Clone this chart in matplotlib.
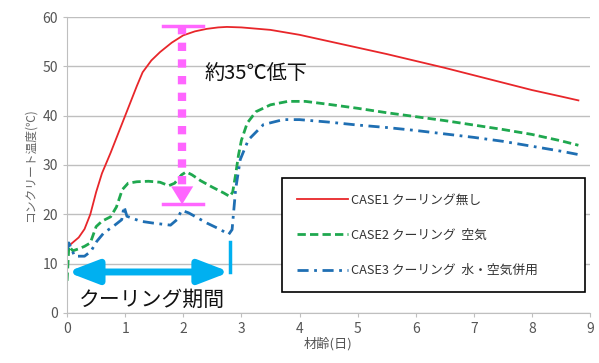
import matplotlib.pyplot as plt

plt.rcParams['font.family'] = ['Noto Sans CJK JP', 'DejaVu Sans']

# CASE1 クーリング無し
case1_x = [0, 0.1, 0.2, 0.3, 0.4, 0.5, 0.6, 0.75, 0.9, 1.0, 1.1, 1.2, 1.3, 1.45, 1.6,
           1.8, 2.0, 2.2, 2.4, 2.6, 2.75, 3.0, 3.5, 4.0, 4.5, 5.0, 5.5, 6.0, 6.5, 7.0,
           7.5, 8.0, 8.5, 8.8]
case1_y = [13.3, 14.3, 15.3, 17.0, 20.0, 24.5, 28.3, 32.5, 37.0, 40.0, 43.0, 46.0, 48.8,
           51.2, 52.9, 54.8, 56.3, 57.1, 57.6, 57.9, 58.0, 57.9, 57.4, 56.4, 55.1, 53.8,
           52.5, 51.1, 49.7, 48.2, 46.7, 45.2, 43.9, 43.1]

# CASE2 クーリング 空気
case2_x = [0, 0.03, 0.1, 0.2, 0.3, 0.4, 0.5, 0.6, 0.75, 0.85, 0.95, 1.05, 1.2, 1.4, 1.6,
           1.75, 1.85, 1.97, 2.05, 2.15, 2.3, 2.5, 2.7, 2.8, 2.85, 2.9, 2.95, 3.0, 3.1,
           3.25, 3.5, 3.8, 4.1, 4.5, 5.0, 5.5, 6.0, 6.5, 7.0, 7.5, 8.0, 8.5, 8.8]
case2_y = [6.5, 13.5, 12.6, 13.0, 13.5, 14.2, 17.5, 18.6, 19.5, 21.5, 25.0, 26.3, 26.6,
           26.7, 26.5, 25.8, 26.3, 28.0, 28.6, 28.0, 26.8, 25.5, 24.3, 23.6, 24.5, 28.0,
           32.0, 35.0, 38.5, 40.8, 42.2, 42.9, 42.9, 42.3, 41.5, 40.6, 39.8, 39.0, 38.1,
           37.2, 36.2, 34.9, 34.0]

# CASE3 クーリング 水・空気併用
case3_x = [0, 0.03, 0.13, 0.3, 0.41, 0.51, 0.63, 0.8, 0.94, 0.98, 1.03, 1.26, 1.49, 1.78,
           1.89, 1.97, 2.09, 2.41, 2.64, 2.78, 2.84, 2.9, 2.98, 3.12, 3.38, 3.72, 4.0,
           4.5, 5.0, 5.5, 6.0, 6.5, 7.0, 7.5, 8.0, 8.5, 8.85]
case3_y = [12.8, 14.2, 11.5, 11.5, 12.5, 14.5, 16.2, 17.6, 18.9, 21.6, 19.6, 18.6, 18.2,
           17.8, 18.9, 20.8, 20.3, 18.2, 16.9, 15.9, 16.9, 25.0, 31.1, 35.1, 38.2, 39.2,
           39.2, 38.7, 38.1, 37.6, 37.0, 36.3, 35.6, 34.8, 33.8, 32.8, 32.0]

labels = ['CASE1 クーリング無し', 'CASE2 クーリング  空気', 'CASE3 クーリング  水・空気併用']
colors = ['#E8262A', '#1FA84F', '#1F6FB3']

# 注記
drop_x, drop_top, drop_bottom = 1.98, 58.2, 22.0
cool_end, cool_y, cool_tick = 2.8, 8.3, 14.3
pink = '#FF66FF'
cyan = '#00B0F0'

fig = plt.figure(figsize=(5.99, 3.63), dpi=100)
ax = fig.add_axes([0.112, 0.138, 0.873, 0.815])

ax.plot(case1_x, case1_y, color=colors[0], lw=1.3, label=labels[0])
ax.plot(case2_x, case2_y, color=colors[1], lw=2, ls=(0, (3, 1.5)), label=labels[1])
ax.plot(case3_x, case3_y, color=colors[2], lw=2, ls=(0, (4, 2, 1, 2)), label=labels[2])

ax.set_xlim(0, 9)
ax.set_ylim(0, 60)
ax.set_xticks(range(0, 10))
ax.set_yticks(range(0, 61, 10))
ax.grid(axis='y', color='#BFBFBF', lw=1)
ax.set_axisbelow(True)
for s in ['top', 'right']:
    ax.spines[s].set_visible(False)
for s in ['left', 'bottom']:
    ax.spines[s].set_color('#BFBFBF')
ax.tick_params(colors='#BFBFBF', labelcolor='#555555', labelsize=10, length=3)
ax.set_ylabel('コンクリート温度(℃)', fontsize=8.5, color='#666666', labelpad=4)
ax.set_xlabel('材齢(日)', fontsize=9.5, color='#555555', labelpad=1)

# 低下量の矢印
ax.plot([drop_x, drop_x], [drop_top, 25.0], color=pink, lw=6, ls=(0, (1, 1)),
        solid_capstyle='butt', dash_capstyle='butt')
ax.annotate('', xy=(drop_x, drop_bottom), xytext=(drop_x, 25.6),
            arrowprops=dict(arrowstyle='-|>,head_width=0.4,head_length=0.65',
                            color=pink, lw=0, mutation_scale=20, shrinkA=0, shrinkB=0))
ax.plot([drop_x - 0.33, drop_x + 0.36], [drop_top, drop_top], color=pink, lw=2.5)
ax.plot([drop_x - 0.33, drop_x + 0.36], [drop_bottom, drop_bottom], color=pink, lw=2.5)
ax.text(2.37, 48.3, '約35℃低下', fontsize=14.5, va='center', ha='left', color='#111111')

# クーリング期間
ax.annotate('', xy=(0, cool_y), xytext=(cool_end, cool_y),
            arrowprops=dict(arrowstyle='<|-|>,head_width=0.5,head_length=1.3',
                            color=cyan, lw=5, mutation_scale=14, shrinkA=0, shrinkB=0))
ax.plot([cool_end, cool_end], [cool_y, cool_tick], color=cyan, lw=2.5)
ax.text(0.2, 2.6, 'クーリング期間', fontsize=15, va='center', ha='left', color='#111111')

leg = ax.legend(loc='upper left', bbox_to_anchor=(0.411, 0.057, 0.579, 0.399),
                mode='expand', borderaxespad=0, fontsize=9.2, handlelength=4,
                handletextpad=0.2, labelspacing=1.75, borderpad=1.2, fancybox=False,
                framealpha=1)
leg.get_frame().set_edgecolor('black')
leg.get_frame().set_linewidth(1.2)
for t in leg.get_texts():
    t.set_color('#333333')

fig.savefig('out.png', dpi=100)
